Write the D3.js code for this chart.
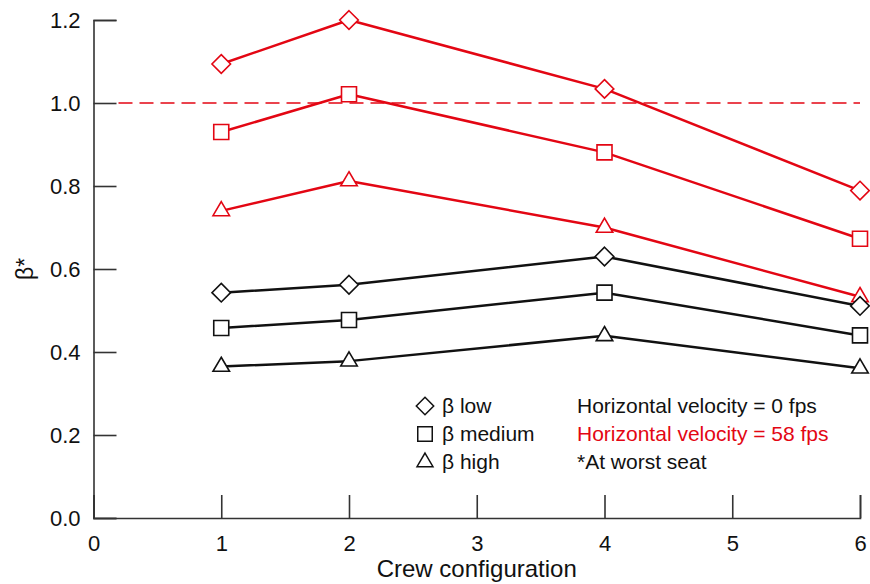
<!DOCTYPE html>
<html>
<head>
<meta charset="utf-8">
<script src="https://cdn.jsdelivr.net/npm/d3@7"></script>
<style>
  html, body { margin: 0; padding: 0; background: #fff; }
  svg { display: block; font-family: Arial, "Liberation Sans", sans-serif; }
</style>
</head>
<body>
<svg id="chart" width="870" height="584"></svg>
<script>
// Crew configurations on the x axis
const configs = [1, 2, 4, 6];

// Horizontal velocity = 0 fps (black)
const low0 = [0.543, 0.562, 0.630, 0.511];
const medium0 = [0.458, 0.477, 0.543, 0.440];
const high0 = [0.365, 0.378, 0.439, 0.361];

// Horizontal velocity = 58 fps (red)
const low58 = [1.094, 1.200, 1.034, 0.789];
const medium58 = [0.930, 1.021, 0.881, 0.673];
const high58 = [0.740, 0.812, 0.700, 0.533];

const xTicks = [0, 1, 2, 3, 4, 5, 6];
const yTicks = [0.0, 0.2, 0.4, 0.6, 0.8, 1.0, 1.2];
const referenceLevel = 1.0;

const legendItems = [
  { shape: "diamond", label: "\u03B2 low" },
  { shape: "square", label: "\u03B2 medium" },
  { shape: "triangle", label: "\u03B2 high" }
];
const notes = [
  { text: "Horizontal velocity = 0 fps", color: "#111" },
  { text: "Horizontal velocity = 58 fps", color: "#e30613" },
  { text: "*At worst seat", color: "#111" }
];

const RED = "#e30613";
const BLACK = "#111";
const AXIS = "#333";

const svg = d3.select("#chart");
const x = d3.scaleLinear().domain([0, 6]).range([93.5, 860]);
const y = d3.scaleLinear().domain([0, 1.2]).range([518, 20]);

// Marker shapes, centred on (0,0)
function markerPath(shape, s) {
  const p = d3.path();
  if (shape === "diamond") {
    const r = s * 0.6;
    p.moveTo(0, -r); p.lineTo(r, 0); p.lineTo(0, r); p.lineTo(-r, 0); p.closePath();
  } else if (shape === "square") {
    const h = s * 0.5;
    p.rect(-h, -h, 2 * h, 2 * h);
  } else {
    const w = s * 0.55, hTop = s * 0.62, hBot = s * 0.32;
    p.moveTo(0, -hTop); p.lineTo(w, hBot); p.lineTo(-w, hBot); p.closePath();
  }
  return p.toString();
}

// Axes (ticks point inward)
const xAxis = d3.axisBottom(x).tickValues(xTicks).tickSize(-23).tickPadding(30)
  .tickFormat(d3.format("d"));
const yAxis = d3.axisLeft(y).tickValues(yTicks).tickSize(-23).tickPadding(36)
  .tickFormat(d3.format(".1f"));

const gx = svg.append("g").attr("transform", `translate(0,${y(0)})`).call(xAxis);
const gy = svg.append("g").attr("transform", `translate(${x(0)},0)`).call(yAxis);
[gx, gy].forEach(g => {
  g.select(".domain").attr("stroke", AXIS).attr("stroke-width", 1.6);
  g.selectAll(".tick line").attr("stroke", AXIS).attr("stroke-width", 1.6);
  g.selectAll(".tick text").attr("fill", "#111").attr("font-size", 22)
    .attr("font-family", "Arial, 'Liberation Sans', sans-serif");
});
gx.selectAll(".tick text").attr("dy", "0.15em");
gy.selectAll(".tick text").attr("text-anchor", "end").attr("dx", "0").attr("x", -13);

// Axis titles
svg.append("text")
  .attr("x", (x(0) + x(6)) / 2).attr("y", 577)
  .attr("text-anchor", "middle").attr("font-size", 24).attr("fill", "#111")
  .text("Crew configuration");
svg.append("text")
  .attr("transform", `translate(33,${y(0.6)}) rotate(-90)`)
  .attr("text-anchor", "middle").attr("font-size", 23).attr("fill", "#111")
  .text("\u03B2*");

// Dashed reference line at 1.0
svg.append("line")
  .attr("x1", x(0) + 25).attr("x2", x(6))
  .attr("y1", y(referenceLevel)).attr("y2", y(referenceLevel))
  .attr("stroke", RED).attr("stroke-width", 1.6).attr("stroke-dasharray", "14,7");

// Series
const series = [
  { values: low58, shape: "diamond", color: RED },
  { values: medium58, shape: "square", color: RED },
  { values: high58, shape: "triangle", color: RED },
  { values: low0, shape: "diamond", color: BLACK },
  { values: medium0, shape: "square", color: BLACK },
  { values: high0, shape: "triangle", color: BLACK }
];
const markerSize = { diamond: 15.5, square: 15, triangle: 15 };

const line = d3.line().x(d => x(d[0])).y(d => y(d[1]));

series.forEach(s => {
  const pts = configs.map((c, i) => [c, s.values[i]]);
  const g = svg.append("g");
  g.append("path").datum(pts).attr("d", line)
    .attr("fill", "none").attr("stroke", s.color).attr("stroke-width", 2.5)
    .attr("stroke-linejoin", "round");
  g.selectAll("path.mark").data(pts).join("path").attr("class", "mark")
    .attr("transform", d => `translate(${x(d[0])},${y(d[1])})`)
    .attr("d", markerPath(s.shape, markerSize[s.shape]))
    .attr("fill", "#fff").attr("stroke", s.color).attr("stroke-width", 1.6);
});

// Legend
const legend = svg.append("g");
legendItems.forEach((item, i) => {
  const cy = 406 + i * 28;
  legend.append("path")
    .attr("transform", `translate(425,${cy})`)
    .attr("d", markerPath(item.shape, 14.5))
    .attr("fill", "#fff").attr("stroke", "#111").attr("stroke-width", 1.5);
  legend.append("text").attr("x", 442).attr("y", cy + 7)
    .attr("font-size", 21).attr("fill", "#111").text(item.label);
});
notes.forEach((n, i) => {
  legend.append("text").attr("x", 577).attr("y", 413 + i * 28)
    .attr("font-size", 21).attr("fill", n.color).text(n.text);
});
</script>
</body>
</html>
